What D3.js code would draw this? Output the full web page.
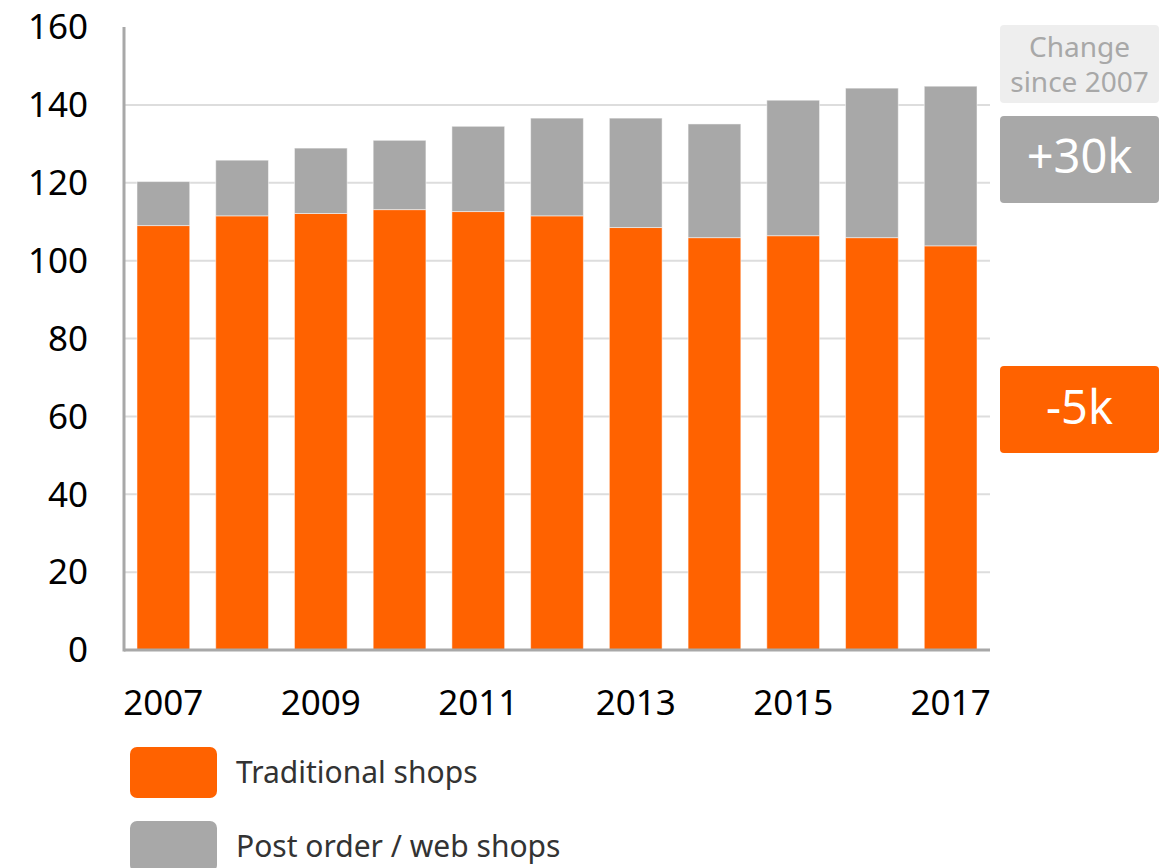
<!DOCTYPE html>
<html>
<head>
<meta charset="utf-8">
<script src="https://cdn.jsdelivr.net/npm/d3@7"></script>
<style>
  html, body { margin: 0; padding: 0; background: #ffffff; }
  svg { display: block; font-family: "Noto Sans", "Open Sans", sans-serif; }
</style>
</head>
<body>
<svg id="chart" width="1173" height="868"></svg>
<script>
// Number of shops (thousands), by year
const years = [2007, 2008, 2009, 2010, 2011, 2012, 2013, 2014, 2015, 2016, 2017];
const traditional = [109.0, 111.5, 112.1, 113.1, 112.6, 111.5, 108.5, 105.9, 106.4, 105.9, 103.8];
const webShops = [11.3, 14.3, 16.8, 17.8, 21.9, 25.1, 28.1, 29.2, 34.8, 38.4, 41.0];
const yTicks = [0, 20, 40, 60, 80, 100, 120, 140, 160];
const xLabelYears = [2007, 2009, 2011, 2013, 2015, 2017];
const seriesNames = ["Traditional shops", "Post order / web shops"];
const changeTitle = ["Change", "since 2007"];
const changeLabels = ["+30k", "-5k"];

const ORANGE = "#ff6200";
const GREY = "#a8a8a8";

const svg = d3.select("#chart");
const plotLeft = 124, plotRight = 990, plotTop = 27, plotBottom = 650;

const x = d3.scaleBand().domain(years).range([plotLeft, plotRight]).paddingInner(0.33).paddingOuter(0.165);
const y = d3.scaleLinear().domain([0, 160]).range([plotBottom, plotTop]);

// Gridlines
svg.append("g").selectAll("line").data(yTicks.filter(d => d > 0 && d < 160)).join("line")
  .attr("x1", plotLeft).attr("x2", plotRight)
  .attr("y1", d => y(d)).attr("y2", d => y(d))
  .attr("stroke", "#dddddd").attr("stroke-width", 2);

// Stacked bars
const rows = years.map((yr, i) => ({ year: yr, trad: traditional[i], web: webShops[i] }));
const stack = d3.stack().keys(["trad", "web"])(rows);
const colors = [ORANGE, GREY];
svg.append("g").selectAll("g").data(stack).join("g")
  .attr("fill", (d, i) => colors[i])
  .selectAll("rect").data(d => d).join("rect")
  .attr("x", d => x(d.data.year))
  .attr("width", x.bandwidth())
  .attr("y", d => y(d[1]))
  .attr("height", d => y(d[0]) - y(d[1]))
  .attr("stroke", "#ffffff").attr("stroke-opacity", 0.5).attr("stroke-width", 1);

// Axis lines
svg.append("line").attr("x1", plotLeft).attr("x2", plotLeft).attr("y1", plotTop).attr("y2", plotBottom + 1.5)
  .attr("stroke", GREY).attr("stroke-width", 3);
svg.append("line").attr("x1", plotLeft).attr("x2", plotRight).attr("y1", plotBottom).attr("y2", plotBottom)
  .attr("stroke", GREY).attr("stroke-width", 3);

// Y tick labels
svg.append("g").selectAll("text").data(yTicks).join("text")
  .attr("x", 88).attr("y", d => y(d))
  .attr("dy", "0.35em").attr("text-anchor", "end")
  .attr("font-size", 35).attr("fill", "#000")
  .text(d => d);

// X tick labels
svg.append("g").selectAll("text").data(xLabelYears).join("text")
  .attr("x", d => x(d) + x.bandwidth() / 2).attr("y", 703)
  .attr("dy", "0.35em").attr("text-anchor", "middle")
  .attr("font-size", 35).attr("fill", "#000")
  .text(d => d);

// Legend
const legend = svg.append("g");
seriesNames.forEach((name, i) => {
  const ly = 747 + i * 74;
  legend.append("rect").attr("x", 130).attr("y", ly).attr("width", 87).attr("height", 51)
    .attr("rx", 7).attr("fill", colors[i]);
  legend.append("text").attr("x", 236).attr("y", ly + 25).attr("dy", "0.35em")
    .attr("font-size", 30).attr("fill", "#333").text(name);
});

// Change boxes
const bx = 1000, bw = 159;
svg.append("rect").attr("x", bx).attr("y", 25).attr("width", bw).attr("height", 78)
  .attr("rx", 4).attr("fill", "#eeeeee");
changeTitle.forEach((t, i) => {
  svg.append("text").attr("x", bx + bw / 2).attr("y", 47 + i * 35).attr("dy", "0.35em")
    .attr("text-anchor", "middle").attr("font-size", 28).attr("fill", GREY).text(t);
});
svg.append("rect").attr("x", bx).attr("y", 116).attr("width", bw).attr("height", 87)
  .attr("rx", 4).attr("fill", GREY);
svg.append("text").attr("x", bx + bw / 2).attr("y", 157).attr("dy", "0.35em")
  .attr("text-anchor", "middle").attr("font-size", 47).attr("fill", "#fff").text(changeLabels[0]);
svg.append("rect").attr("x", bx).attr("y", 366).attr("width", bw).attr("height", 87)
  .attr("rx", 4).attr("fill", ORANGE);
svg.append("text").attr("x", bx + bw / 2).attr("y", 408).attr("dy", "0.35em")
  .attr("text-anchor", "middle").attr("font-size", 47).attr("fill", "#fff").text(changeLabels[1]);
</script>
</body>
</html>
